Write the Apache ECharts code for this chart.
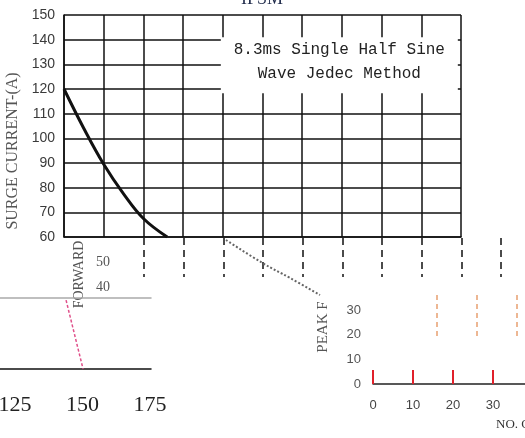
<!DOCTYPE html>
<html><head><meta charset="utf-8">
<script src="https://cdn.jsdelivr.net/npm/echarts@6/dist/echarts.min.js"></script>
<style>html,body{margin:0;padding:0;background:#fff}#c{width:525px;height:438px}</style>
</head><body><div id="c"></div>
<script>
// Main chart: surge current vs cycles (x in grid columns)
const mainCurve = [[0,120],[0.5,104],[1,89.5],[1.5,77.5],[2,67.5],[2.6,60]];
const mainYTicks = [60,70,80,90,100,110,120,130,140,150];
const noteText = ['8.3ms Single Half Sine', 'Wave Jedec Method'];
// Lower-left fragment (temperature axis)
const tempLabels = [125,150,175];
const tempDashed = [[143.9,0.97],[150.2,0]];
// Forward fragment labels
const fwdLabels = [40,50];
// Lower-right fragment
const cycLabels = [0,10,20,30];
const peakLabels = [0,10,20,30];
const dottedCurve = [[0,1],[0.39,0.58],[0.68,0.31],[1,0]];

const chart = echarts.init(document.getElementById('c'));
const black = '#111';
const g = (o) => Object.assign({outerBoundsMode:'none', containLabel:false}, o);
chart.setOption({
  animation:false,
  title:{text:'IFSM', left:236, top:-15, textStyle:{fontFamily:'Liberation Serif', fontSize:18, fontWeight:'normal', color:'#1f2a4a'}},
  grid:[
    g({left:64, top:15, width:397, height:222}),
    g({left:144, top:238, width:357, height:39}),
    g({left:0, top:298, width:151, height:71}),
    g({left:118, top:262, width:30, height:25}),
    g({left:373, top:310, width:152, height:74}),
    g({left:437, top:295, width:80, height:45}),
    g({left:226, top:240, width:94, height:55})
  ],
  xAxis:[
    {gridIndex:0, type:'value', min:0, max:10, interval:1, axisLabel:{show:false}, axisTick:{show:false},
     axisLine:{lineStyle:{color:black, width:1.5}}, splitLine:{lineStyle:{color:black, width:1.5}}},
    {gridIndex:1, type:'value', min:2, max:11, interval:1, axisLabel:{show:false}, axisTick:{show:false},
     axisLine:{show:false}, splitLine:{lineStyle:{color:black, width:1.5, type:[7,5]}}},
    {gridIndex:2, type:'value', min:119.4, max:175.4, axisTick:{show:false},
     axisLine:{lineStyle:{color:black, width:1.5}}, splitLine:{show:false},
     axisLabel:{customValues:tempLabels, margin:25, fontFamily:'Liberation Serif', fontSize:22, color:'#222'}},
    {gridIndex:3, type:'value', min:0, max:1, show:false},
    {gridIndex:4, type:'value', min:0, max:38, interval:10,
     axisLine:{lineStyle:{color:'#222', width:1.5}}, splitLine:{show:false},
     axisTick:{inside:true, length:14, lineStyle:{color:'#e0202a', width:2}, customValues:cycLabels},
     axisLabel:{customValues:cycLabels, margin:15, fontFamily:'Liberation Sans', fontSize:13, color:'#444'}},
    {gridIndex:5, type:'value', min:0, max:2, interval:1, axisLabel:{show:false}, axisTick:{show:false},
     axisLine:{show:false}, splitLine:{lineStyle:{color:'#e8a070', width:1.5, type:[5,4]}}},
    {gridIndex:6, type:'value', min:0, max:1, show:false},
    {gridIndex:2, type:'value', position:'top', min:0, max:1, axisLabel:{show:false}, axisTick:{show:false},
     splitLine:{show:false}, axisLine:{show:true, lineStyle:{color:'#aaa', width:1.5}}}
  ],
  yAxis:[
    {gridIndex:0, type:'value', min:60, max:150, interval:10,
     axisLine:{show:true, lineStyle:{color:black, width:1.5}}, axisTick:{show:false},
     splitLine:{lineStyle:{color:black, width:1.5}},
     axisLabel:{margin:9, fontFamily:'Liberation Sans', fontSize:14, color:'#3a3a3a', customValues:mainYTicks},
     name:'SURGE CURRENT-(A)', nameLocation:'middle', nameGap:40,
     nameTextStyle:{fontFamily:'Liberation Serif', fontSize:16, color:'#555', padding:[0,50,0,0]}},
    {gridIndex:1, type:'value', min:0, max:1, show:false},
    {gridIndex:2, type:'value', min:0, max:1, show:false},
    {gridIndex:3, type:'value', min:40, max:50, interval:10,
     axisLine:{show:false}, axisTick:{show:false}, splitLine:{show:false},
     axisLabel:{margin:8, fontFamily:'Liberation Serif', fontSize:14, color:'#555'},
     name:'FORWARD', nameLocation:'middle', nameGap:32,
     nameTextStyle:{fontFamily:'Liberation Serif', fontSize:14, color:'#555'}},
    {gridIndex:4, type:'value', min:0, max:30, interval:10,
     axisLine:{show:false}, axisTick:{show:false}, splitLine:{show:false},
     axisLabel:{margin:12, fontFamily:'Liberation Sans', fontSize:13, color:'#555'},
     name:'PEAK F', nameLocation:'middle', nameGap:42,
     nameTextStyle:{fontFamily:'Liberation Serif', fontSize:15, color:'#555', padding:[0,0,0,40]}},
    {gridIndex:5, type:'value', min:0, max:1, show:false},
    {gridIndex:6, type:'value', min:0, max:1, show:false}
  ],
  series:[
    {type:'line', xAxisIndex:0, yAxisIndex:0, data:mainCurve, smooth:0.4, showSymbol:false,
     lineStyle:{color:black, width:3},
     markArea:{silent:true, itemStyle:{color:'#fff'},
       label:{show:true, position:'inside', offset:[0,-3], formatter:noteText.join('\n'),
              fontFamily:'Liberation Mono', fontSize:16, lineHeight:24, color:'#222'},
       data:[[{coord:[3.95,141]},{coord:[9.92,118.3]}]]}},
    {type:'line', xAxisIndex:2, yAxisIndex:2, data:tempDashed, showSymbol:false,
     lineStyle:{color:'#e0508a', width:1.5, type:[3,2]}},
    {type:'line', xAxisIndex:6, yAxisIndex:6, data:dottedCurve, smooth:0.4, showSymbol:false,
     lineStyle:{color:'#666', width:2, type:[2,2]}}
  ],
  graphic:[
    {type:'text', left:496, top:418, style:{text:'NO. OF', fontFamily:'Liberation Serif', fontSize:13, fill:'#333'}}
  ]
});
</script></body></html>
